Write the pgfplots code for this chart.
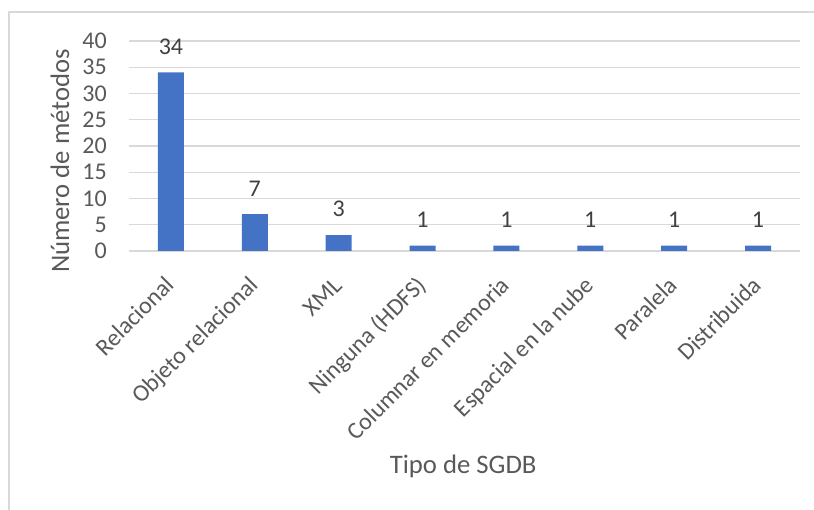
\documentclass[border=0pt]{standalone}
\usepackage{fontspec}
\setmainfont{Carlito}
\usepackage{pgfplots}
\pgfplotsset{compat=1.18}
\definecolor{barblue}{HTML}{4472C4}
\definecolor{gridgray}{HTML}{D9D9D9}
\definecolor{labelgray}{HTML}{595959}
\definecolor{valgray}{HTML}{404040}
\newcommand{\tickfont}{\fontsize{24bp}{28bp}\selectfont}
\newcommand{\titlefont}{\fontsize{26.7bp}{31bp}\selectfont}

\begin{document}
\begin{tikzpicture}
\begin{axis}[
  scale only axis, width=671bp, height=210bp,
  ybar, bar width=26bp,
  xmin=-0.5, xmax=7.5, ymin=0, ymax=40,
  ytick={0,5,...,40},
  xtick=data,
  xticklabels={Relacional, Objeto relacional, XML, Ninguna (HDFS), Columnar en memoria, Espacial en la nube, Paralela, Distribuida},
  axis line style={draw=none},
  major tick length=0pt,
  ymajorgrids, grid style={gridgray, line width=1.3bp},
  /pgf/number format/assume math mode=true,
  yticklabel style={font=\tickfont, text=labelgray, anchor=east, inner sep=0pt, xshift=-22bp},
  xticklabel style={font=\tickfont, text=labelgray, xshift=3bp, yshift=-34bp, rotate=45, anchor=east, inner sep=0pt, text height=0.72em, text depth=0.22em},
  xlabel={Tipo de SGDB},
  ylabel={Número de métodos},
  xlabel style={font=\titlefont, text=labelgray, at={(axis description cs:0.498,-1.024)}, anchor=center},
  ylabel style={font=\titlefont, text=labelgray, at={(axis description cs:-0.103,0.429)}, anchor=center},
  nodes near coords,
  every node near coord/.append style={font=\tickfont, text=valgray, anchor=south, inner sep=0pt, yshift=18bp},
]
\addplot[fill=barblue, draw=none] coordinates {(0,34) (1,7) (2,3) (3,1) (4,1) (5,1) (6,1) (7,1)};
\coordinate (o) at (axis cs:-0.5,0);
\end{axis}
% chart frame (left and top edges fall inside the page)
\draw[gridgray, line width=1.3bp, shift={(o)}, x=1bp, y=1bp] (-120,-259) |- (685,239);
\pgfresetboundingbox
\path[use as bounding box, shift={(o)}, x=1bp, y=1bp] (-129,-259) rectangle (685,251);
\end{tikzpicture}
\end{document}
